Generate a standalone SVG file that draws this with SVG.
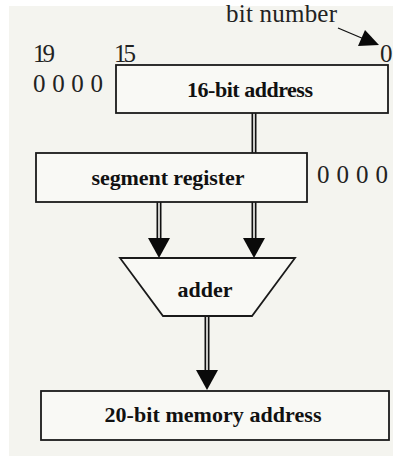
<svg xmlns="http://www.w3.org/2000/svg" width="400" height="456" viewBox="0 0 400 456">
<style>
.box{fill:#f9f9f5;stroke:#1a1a1a;stroke-width:1.8}
.lbl{font-family:"Liberation Serif",serif;font-weight:bold;font-size:22px;fill:#111;text-anchor:middle}
.num{font-family:"Liberation Serif",serif;font-size:25px;fill:#222}
.outer{stroke:#111;stroke-width:5;fill:none}
.inner{stroke:#f9f9f5;stroke-width:1.6;fill:none}
.head{fill:#0a0a0a}
</style>
<rect x="0" y="0" width="400" height="456" fill="#ffffff"/>
<rect x="9" y="6" width="384" height="450" fill="#f4f4ef"/>

<g id="connectors">
  <path class="outer" d="M254 113V153"/>
  <path class="inner" d="M254 113V153"/>
  <path class="outer" d="M159 202V240"/>
  <path class="inner" d="M159 202V240"/>
  <polygon class="head" points="148,238 170,238 159,258"/>
  <path class="outer" d="M254 202V240"/>
  <path class="inner" d="M254 202V240"/>
  <polygon class="head" points="243,238 265,238 254,258"/>
  <path class="outer" d="M207 316V372"/>
  <path class="inner" d="M207 316V372"/>
  <polygon class="head" points="196,370 218,370 207,390"/>
  <path d="M338 28L364 39" stroke="#111" stroke-width="1.3" fill="none"/>
  <polygon class="head" points="358,46 365,30 379,45"/>
</g>

<g id="bit-labels">
  <text class="num" x="226" y="22" textLength="111">bit number</text>
  <text class="num" x="33" y="62" textLength="22">19</text>
  <text class="num" x="114" y="62" textLength="22">15</text>
  <text class="num" x="380" y="62" textLength="10">0</text>
  <text class="num" x="33" y="92" textLength="70">0 0 0 0</text>
  <text class="num" x="317" y="183" textLength="71">0 0 0 0</text>
</g>

<g id="addr16">
  <rect class="box" x="116" y="65" width="272" height="48"/>
  <text class="lbl" x="250" y="97" textLength="126">16-bit address</text>
</g>

<g id="segreg">
  <rect class="box" x="36" y="153" width="271" height="49"/>
  <text class="lbl" x="168" y="185" textLength="153">segment register</text>
</g>

<g id="adder">
  <polygon class="box" points="120,258 295,258 252,316 163,316"/>
  <text class="lbl" x="205" y="297" textLength="55">adder</text>
</g>

<g id="addr20">
  <rect class="box" x="41" y="391" width="348" height="49"/>
  <text class="lbl" x="213" y="422" textLength="217">20-bit memory address</text>
</g>
</svg>
